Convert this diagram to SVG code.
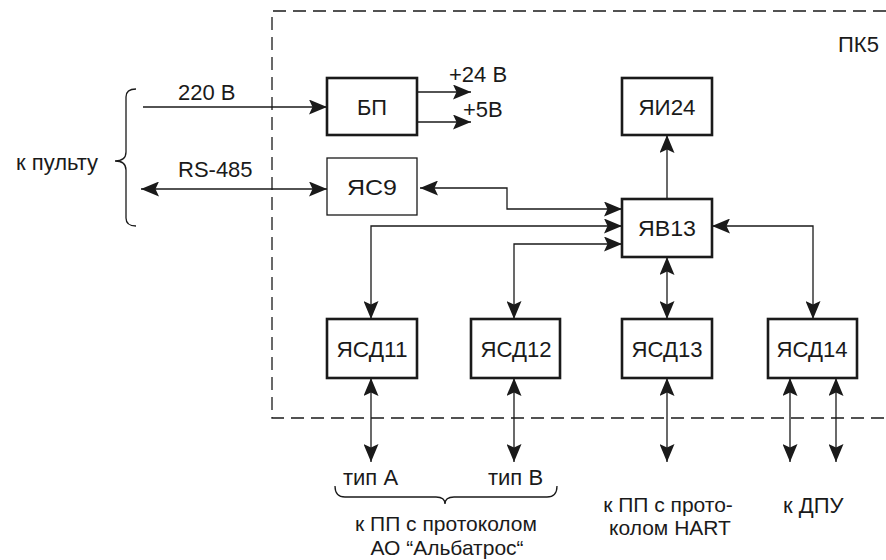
<svg xmlns="http://www.w3.org/2000/svg" width="886" height="560" viewBox="0 0 886 560">
<style>
text{font-family:"Liberation Sans",Arial,sans-serif;font-size:22px;fill:#1a1a1a}
.m{text-anchor:middle}
.thick{fill:#fff;stroke:#1a1a1a;stroke-width:2.6}
.thin{fill:#fff;stroke:#1a1a1a;stroke-width:1.3}
.c{fill:none;stroke:#1a1a1a;stroke-width:1.3}
.dash{fill:none;stroke:#1a1a1a;stroke-width:1.3;stroke-dasharray:13 7}
.a2{marker-start:url(#ah);marker-end:url(#ah)}
.a1{marker-end:url(#ah)}
.sm{font-size:21px}
</style>
<defs>
<marker id="ah" viewBox="0 0 18 15" refX="18" refY="7.5" markerWidth="18" markerHeight="15" markerUnits="userSpaceOnUse" orient="auto-start-reverse">
<path d="M0,0 L18,7.5 L0,15 L3.5,7.5 Z" fill="#1a1a1a"/>
</marker>
</defs>
<rect width="886" height="560" fill="#fff"/>

<g id="boundary">
<path class="dash" d="M886,11 L272,11 L272,418 L886,418"/>
<text x="838" y="52">ПК5</text>
</g>

<g id="connectors">
<path class="c a1" d="M143,107 L327,107"/>
<path class="c a2" d="M141,189 L327,189"/>
<path class="c a1" d="M417,92 L471,92"/>
<path class="c a1" d="M417,122 L471,122"/>
<path class="c a2" d="M420,188 L507,188 L507,209 L622,209"/>
<path class="c a2" d="M622,226 L371,226 L371,319"/>
<path class="c a2" d="M622,244 L514,244 L514,319"/>
<path class="c a1" d="M667,199 L667,135"/>
<path class="c a2" d="M667,257 L667,319"/>
<path class="c a2" d="M712,226 L813,226 L813,319"/>
<path class="c a2" d="M371,378 L371,462"/>
<path class="c a2" d="M514,378 L514,462"/>
<path class="c a2" d="M667,378 L667,462"/>
<path class="c a2" d="M790,378 L790,462"/>
<path class="c a2" d="M836,378 L836,462"/>
</g>

<g id="labels">
<text x="178" y="100">220 В</text>
<text x="178" y="177">RS-485</text>
<text x="449" y="82">+24 В</text>
<text x="463" y="117">+5В</text>
<text x="16" y="170">к пульту</text>
<path class="c" d="M136,89 Q126,89 126,97 L126,152 Q126,161 115,161 Q126,161 126,170 L126,218 Q126,226 136,226"/>
<text x="343" y="485">тип А</text>
<text x="488" y="485">тип В</text>
<path class="c" d="M335,486 Q335,497 345,497 L436,497 Q445,497 445,504 Q445,497 454,497 L547,497 Q557,497 557,486"/>
<text class="m sm" x="446" y="531">к ПП с протоколом</text>
<text class="m sm" x="447" y="555">АО “Альбатрос“</text>
<text class="m sm" x="668" y="512">к ПП с прото-</text>
<text class="m sm" x="670" y="535">колом HART</text>
<text x="783" y="513">к ДПУ</text>
</g>

<g id="BP"><rect class="thick" x="327" y="78" width="90" height="57"/><text class="m" x="372" y="115" textLength="30" lengthAdjust="spacingAndGlyphs">БП</text></g>
<g id="YaS9"><rect class="thin" x="327" y="158" width="90" height="57"/><text class="m" x="372" y="195" textLength="50" lengthAdjust="spacingAndGlyphs">ЯС9</text></g>
<g id="YaI24"><rect class="thick" x="622" y="78" width="90" height="57"/><text class="m" x="667" y="115" textLength="57" lengthAdjust="spacingAndGlyphs">ЯИ24</text></g>
<g id="YaV13"><rect class="thick" x="622" y="199" width="90" height="58"/><text class="m" x="667" y="236" textLength="58" lengthAdjust="spacingAndGlyphs">ЯВ13</text></g>
<g id="YaSD11"><rect class="thick" x="327" y="319" width="90" height="59"/><text class="m" x="372" y="357" textLength="71" lengthAdjust="spacingAndGlyphs">ЯСД11</text></g>
<g id="YaSD12"><rect class="thick" x="471" y="319" width="89" height="59"/><text class="m" x="516" y="357" textLength="71" lengthAdjust="spacingAndGlyphs">ЯСД12</text></g>
<g id="YaSD13"><rect class="thick" x="622" y="319" width="90" height="59"/><text class="m" x="667" y="357" textLength="71" lengthAdjust="spacingAndGlyphs">ЯСД13</text></g>
<g id="YaSD14"><rect class="thick" x="768" y="319" width="89" height="59"/><text class="m" x="812" y="357" textLength="71" lengthAdjust="spacingAndGlyphs">ЯСД14</text></g>
</svg>
